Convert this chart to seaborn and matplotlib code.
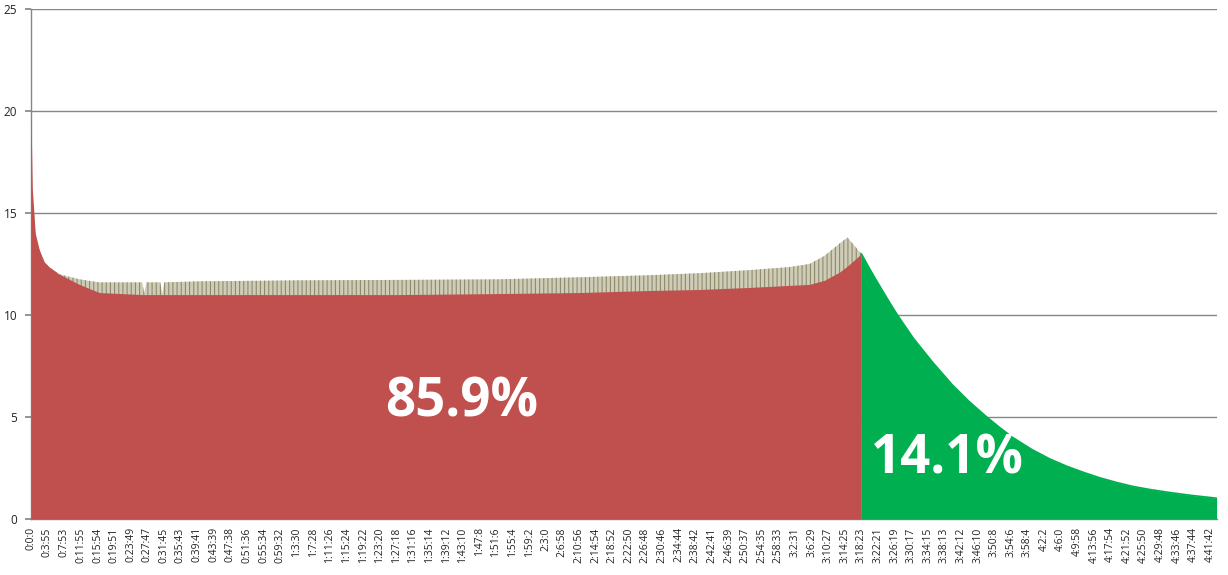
import pandas as pd
import seaborn as sns
import matplotlib.pyplot as plt

# Elapsed time (seconds) and readings, estimated from the chart
red_time = [0, 19, 62, 119, 191, 262, 405, 693, 979, 1596, 1624, 1653, 1696,
            1853, 1882, 1911, 2413, 3847, 5281, 6714, 7861, 8865, 9582,
            10299, 10872, 11159, 11374, 11589, 11704, 11804, 11903]
red_low = [20.0, 16.2, 14.0, 13.2, 12.6, 12.35, 12.0, 11.5, 11.1, 11.0, 11.0, 11.0, 11.0,
           11.0, 11.0, 11.0, 11.0, 11.0, 11.0, 11.05, 11.1, 11.2, 11.25,
           11.35, 11.45, 11.5, 11.7, 12.1, 12.4, 12.7, 13.0]
red_high = [20.0, 16.2, 14.0, 13.2, 12.6, 12.35, 12.0, 11.75, 11.6, 11.6, 11.05, 11.6, 11.6,
            11.6, 11.05, 11.6, 11.65, 11.7, 11.72, 11.75, 11.85, 11.95, 12.05,
            12.2, 12.35, 12.5, 12.9, 13.5, 13.8, 13.4, 13.0]

green_time = [11903, 12000, 12100, 12205, 12310, 12420, 12650, 12920, 13200, 13450,
              13700, 13880, 14070, 14350, 14600, 14850, 15100, 15320, 15550, 15790,
              16030, 16280, 16600, 16995]
green_value = [13.0, 12.4, 11.8, 11.2, 10.6, 10.0, 8.85, 7.7, 6.6, 5.75,
               5.0, 4.5, 4.0, 3.4, 2.95, 2.58, 2.27, 2.02, 1.8, 1.6,
               1.45, 1.32, 1.17, 1.02]

tick_labels = [
    "0:0:0", "0:3:55", "0:7:53", "0:11:55", "0:15:54", "0:19:51", "0:23:49", "0:27:47",
    "0:31:45", "0:35:43", "0:39:41", "0:43:39", "0:47:38", "0:51:36", "0:55:34", "0:59:32",
    "1:3:30", "1:7:28", "1:11:26", "1:15:24", "1:19:22", "1:23:20", "1:27:18", "1:31:16",
    "1:35:14", "1:39:12", "1:43:10", "1:47:8", "1:51:6", "1:55:4", "1:59:2", "2:3:0",
    "2:6:58", "2:10:56", "2:14:54", "2:18:52", "2:22:50", "2:26:48", "2:30:46", "2:34:44",
    "2:38:42", "2:42:41", "2:46:39", "2:50:37", "2:54:35", "2:58:33", "3:2:31", "3:6:29",
    "3:10:27", "3:14:25", "3:18:23", "3:22:21", "3:26:19", "3:30:17", "3:34:15", "3:38:13",
    "3:42:12", "3:46:10", "3:50:8", "3:54:6", "3:58:4", "4:2:2", "4:6:0", "4:9:58",
    "4:13:56", "4:17:54", "4:21:52", "4:25:50", "4:29:48", "4:33:46", "4:37:44", "4:41:42",
]

share_red = "85.9%"
share_green = "14.1%"


def to_seconds(label):
    h, m, s = (int(p) for p in label.split(":"))
    return h * 3600 + m * 60 + s


sns.set_theme(style="white")
plt.rcParams['font.family'] = ['Open Sans', 'DejaVu Sans']
plt.rcParams['hatch.linewidth'] = 0.8

fig = plt.figure(figsize=(12.28, 5.75), dpi=100)
ax = fig.add_axes([0.0252, 0.0974, 0.9658, 0.887])

red = pd.DataFrame({"t": red_time, "low": red_low, "high": red_high})
green = pd.DataFrame({"t": green_time, "v": green_value})

# fuzzy top band (vertical hatch to mimic the noisy samples), solid red body, green tail
ax.fill_between(red["t"], 0, red["high"], facecolor="#CFCCB8", edgecolor="#8E8B6C",
                hatch="||||", lw=0, zorder=2)
ax.fill_between(red["t"], 0, red["low"], color="#C0504D", lw=0, zorder=3)
ax.fill_between(green["t"], 0, green["v"], color="#00B050", lw=0, zorder=3)
sns.lineplot(data=green, x="t", y="v", color="#00B050", lw=1.2, ax=ax, zorder=4)

ax.set_xlim(0, 17000)
ax.set_ylim(0, 25)
ax.set_yticks([0, 5, 10, 15, 20, 25])
ax.yaxis.grid(True, color="#868686", lw=1)
ax.set_axisbelow(True)

ax.set_xticks([to_seconds(s) for s in tick_labels])
ax.set_xticklabels(tick_labels, rotation=90, fontsize=7.5, color="#222222")
ax.tick_params(axis="y", labelsize=8.5, length=4, color="#868686", pad=6, left=True,
               labelcolor="#222222")
ax.tick_params(axis="x", length=0, pad=6)
ax.set_xlabel("")
ax.set_ylabel("")

for side in ["top", "right"]:
    ax.spines[side].set_visible(False)
for side in ["left", "bottom"]:
    ax.spines[side].set_color("#868686")
    ax.spines[side].set_linewidth(1)

ax.text(6169, 5.7, share_red, color="white", fontsize=38, fontweight="bold",
        ha="center", va="center", zorder=5)
ax.text(13138, 2.9, share_green, color="white", fontsize=38, fontweight="bold",
        ha="center", va="center", zorder=5)

plt.savefig("out.png", dpi=100)
